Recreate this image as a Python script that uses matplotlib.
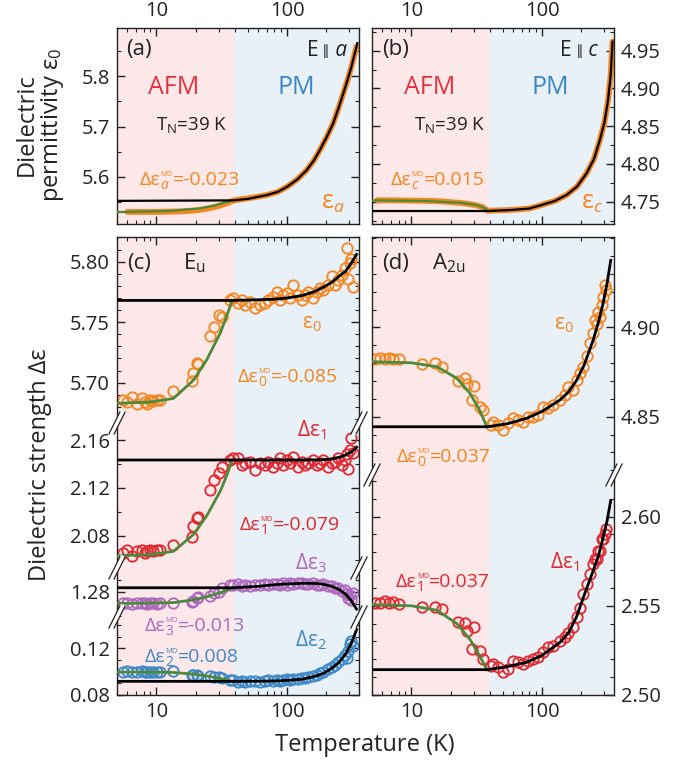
import matplotlib
matplotlib.use("Agg")
import matplotlib.pyplot as plt
import numpy as np
from matplotlib.lines import Line2D
from matplotlib.ticker import (FixedLocator, FuncFormatter, LogLocator,
                               MultipleLocator, NullFormatter)

plt.rcParams['font.family'] = ['Open Sans', 'DejaVu Sans']
plt.rcParams['mathtext.fontset'] = 'custom'
plt.rcParams['mathtext.rm'] = 'Open Sans'
plt.rcParams['mathtext.it'] = 'Open Sans:italic'
plt.rcParams['mathtext.bf'] = 'Open Sans:bold'

# ---------------- data ----------------
T_MIN, T_N, T_MAX = 5.0, 39.0, 355.0

# (a) E || a, static permittivity
a_T = [6, 10, 15, 20, 25, 30, 35, 39, 50, 70, 85, 100, 120, 141, 160, 178, 200,
       225, 250, 285, 310, 340]
a_eps = [5.530, 5.530, 5.531, 5.533, 5.537, 5.542, 5.548, 5.553, 5.557, 5.5635,
         5.570, 5.580, 5.595, 5.613, 5.632, 5.653, 5.678, 5.706, 5.740, 5.786,
         5.818, 5.859]
a_fit_T = [5, 39, 50, 70, 85, 100, 120, 141, 160, 178, 200, 225, 250, 285, 310, 345]
a_fit = [5.552, 5.553, 5.556, 5.5635, 5.570, 5.580, 5.595, 5.613, 5.632, 5.653,
         5.678, 5.706, 5.740, 5.786, 5.818, 5.866]
a_md_T = [5, 12, 21.6, 28.7, 37.8]
a_md = [5.5297, 5.5317, 5.537, 5.5436, 5.553]

# (b) E || c, static permittivity
b_T = [5.5, 10, 15, 20, 25, 30, 35, 38.5, 45, 57, 80, 99, 125, 154, 185, 219,
       250, 277, 300, 320, 335, 346]
b_eps = [4.752, 4.7515, 4.751, 4.7495, 4.748, 4.746, 4.743, 4.738, 4.7385, 4.739,
         4.741, 4.7456, 4.751, 4.7589, 4.770, 4.7876, 4.807, 4.832, 4.855, 4.885,
         4.918, 4.962]
b_fit_T = [5, 38.5, 57, 80, 99, 125, 154, 185, 219, 250, 277, 300, 320, 335, 346]
b_fit = [4.7377, 4.7377, 4.739, 4.741, 4.7456, 4.751, 4.7589, 4.770, 4.7876, 4.807,
         4.832, 4.855, 4.885, 4.918, 4.962]
b_md_T = [5, 13.2, 23.6, 31.7, 36.7, 38.5]
b_md = [4.7519, 4.7509, 4.7487, 4.7456, 4.7412, 4.7377]

# (c) Eu mode parameters
c_T = [5.6, 6.0, 6.5, 7.1, 7.8, 8.2, 8.5, 9.0, 9.5, 10.1, 10.7, 13.4, 18.7, 19.2,
       20.4, 21.0, 25.8, 27.4, 29.9, 31.7, 36.7,
       38.9, 42.4, 45.0, 47.7, 52.1, 56.9, 62.1, 67.8, 71.9, 78.5, 83.3, 88.3, 93.6,
       99.3, 105, 111.5, 121.8, 129, 137, 145, 158.6, 168, 178, 189, 206, 219, 232,
       246, 261, 277, 285, 293, 302, 311, 320]
c_eps0 = [5.686, 5.684, 5.688, 5.682, 5.687, 5.684, 5.682, 5.686, 5.685, 5.686,
          5.686, 5.693, 5.701, 5.708, 5.716, 5.7155, 5.739, 5.746, 5.756, 5.7545,
          5.768,
          5.770, 5.766, 5.768, 5.764, 5.767, 5.7615, 5.764, 5.766, 5.768, 5.771,
          5.775, 5.768, 5.7725, 5.774, 5.770, 5.781, 5.7725, 5.768, 5.7725, 5.775,
          5.770, 5.775, 5.778, 5.777, 5.781, 5.788, 5.781, 5.785, 5.789, 5.795,
          5.811, 5.786, 5.799, 5.802, 5.779]
c_de1 = [2.0656, 2.0683, 2.0628, 2.0669, 2.0683, 2.0656, 2.0669, 2.0683, 2.0669,
         2.0683, 2.0683, 2.0725, 2.0794, 2.0878, 2.0947, 2.0961, 2.1183, 2.1267,
         2.1322, 2.1378, 2.143,
         2.145, 2.1447, 2.139, 2.1406, 2.142, 2.135, 2.1406, 2.139, 2.142, 2.1378,
         2.141, 2.1447, 2.139, 2.1433, 2.1406, 2.146, 2.1378, 2.142, 2.139, 2.1406,
         2.1433, 2.139, 2.1406, 2.143, 2.1378, 2.1406, 2.142, 2.1447, 2.139, 2.1433,
         2.148, 2.136, 2.1517, 2.1614, 2.149]
c_de3 = [1.2703, 1.2706, 1.2700, 1.2704, 1.2702, 1.2705, 1.2701, 1.2704, 1.2703,
         1.2700, 1.2704, 1.2705, 1.2717, 1.2722, 1.2750, 1.2758, 1.2764, 1.2786,
         1.2800, 1.2828, 1.2856,
         1.2856, 1.2862, 1.2850, 1.2858, 1.2845, 1.2860, 1.2852, 1.2866, 1.2855,
         1.2862, 1.2868, 1.2856, 1.2870, 1.2860, 1.2872, 1.2864, 1.2870, 1.2875,
         1.2862, 1.2868, 1.2873, 1.2860, 1.2855, 1.2866, 1.2845, 1.2850, 1.2828,
         1.2835, 1.2810, 1.2815, 1.2780, 1.2745, 1.2770, 1.2730, 1.2790]
c_de2 = [0.0997, 0.1003, 0.1000, 0.0994, 0.1003, 0.0997, 0.1000, 0.0994, 0.1000,
         0.0997, 0.1000, 0.1003, 0.0975, 0.0970, 0.0975, 0.0965, 0.0960, 0.0955,
         0.0950, 0.0945, 0.0930,
         0.0925, 0.0915, 0.0920, 0.0912, 0.0918, 0.0922, 0.0915, 0.0920, 0.0925,
         0.0918, 0.0930, 0.0922, 0.0928, 0.0935, 0.0930, 0.0940, 0.0935, 0.0948,
         0.0945, 0.0955, 0.0965, 0.0975, 0.0990, 0.1000, 0.1020, 0.1040, 0.1060,
         0.1085, 0.1105, 0.1140, 0.1120, 0.1180, 0.1240, 0.1260, 0.1220]
c_fit_T = [5, 39, 60, 80, 100, 130, 160, 190, 220, 250, 280, 310, 340]
c_fit_eps0 = [5.768, 5.768, 5.7685, 5.769, 5.770, 5.772, 5.775, 5.779, 5.783,
              5.788, 5.792, 5.799, 5.806]
c_fit_de1 = [2.1433, 2.1433, 2.1433, 2.1433, 2.1433, 2.1433, 2.1434, 2.1436,
             2.1442, 2.1455, 2.1475, 2.1500, 2.1540]
c_fit_de3 = [1.2833, 1.2833, 1.2845, 1.2858, 1.2865, 1.2870, 1.2870, 1.2862,
             1.2845, 1.2818, 1.2780, 1.2725, 1.2655]
c_fit_de2 = [0.0917, 0.0917, 0.0918, 0.0920, 0.0925, 0.0935, 0.0957, 0.0985,
             0.1030, 0.1080, 0.1150, 0.1240, 0.1360]
c_md_T = [5, 9, 13.5, 19.2, 24.3, 30.8, 34.5, 38]
c_md_eps0 = [5.683, 5.684, 5.687, 5.702, 5.719, 5.741, 5.755, 5.768]
c_md_de1 = [2.0633, 2.0643, 2.0670, 2.0810, 2.0968, 2.1172, 2.1302, 2.1433]
c_md_de3 = [1.2703, 1.2705, 1.2709, 1.2732, 1.2758, 1.2792, 1.2813, 1.2833]
c_md_de2 = [0.0997, 0.0996, 0.0993, 0.0979, 0.0963, 0.0942, 0.0929, 0.0917]

# (d) A2u mode parameters
d_T = [5.3, 5.8, 6.3, 6.7, 7.3, 8.0, 12.0, 15.2, 17.1, 22.9, 25.8, 26.6, 29.0,
       29.9, 33.6, 35.6,
       40.5, 42.4, 46.3, 50.6, 55.2, 60.3, 65.8, 71.9, 78.5, 85.7, 93.5, 102, 111,
       122, 137, 150, 158.6, 173, 184, 195, 206, 219, 232, 246, 253, 261, 269, 277,
       285, 293, 302, 311]
d_eps0 = [4.8821, 4.8827, 4.8821, 4.8827, 4.8821, 4.8821, 4.8795, 4.8802, 4.8780,
          4.8702, 4.8715, 4.8683, 4.8594, 4.8672, 4.8556, 4.8538,
          4.8455, 4.8472, 4.8453, 4.8426, 4.8463, 4.8491, 4.8482, 4.8472, 4.8500,
          4.8500, 4.8510, 4.8556, 4.8547, 4.8566, 4.8594, 4.8622, 4.8668, 4.8650,
          4.8705, 4.8743, 4.8780, 4.8840, 4.8911, 4.8967, 4.9041, 4.9020, 4.9088,
          4.9060, 4.9125, 4.9172, 4.9237, 4.9209]
d_de1 = [2.5518, 2.5518, 2.5528, 2.5518, 2.5520, 2.5510, 2.5496, 2.5496, 2.5481,
         2.5407, 2.5403, 2.5360, 2.5258, 2.5379, 2.5248, 2.5202,
         2.5160, 2.5173, 2.5155, 2.5127, 2.5146, 2.5192, 2.5183, 2.5173, 2.5192,
         2.5202, 2.5211, 2.5239, 2.5267, 2.5276, 2.5304, 2.5323, 2.5350, 2.5379,
         2.5435, 2.5490, 2.5566, 2.5622, 2.5677, 2.5733, 2.5761, 2.5761, 2.5808,
         2.5808, 2.5873, 2.5873, 2.5901, 2.5929]
d_fit_T = [5, 38.5, 55, 76, 100, 137, 160, 184, 210, 246, 270, 293, 315, 335]
d_fit_eps0 = [4.8444, 4.8444, 4.8462, 4.8491, 4.8530, 4.8594, 4.8640, 4.8705,
              4.8790, 4.8929, 4.9030, 4.9135, 4.9250, 4.9375]
d_fit_de1 = [2.5142, 2.5142, 2.5160, 2.5183, 2.5222, 2.5295, 2.5350, 2.5440,
             2.5560, 2.5696, 2.5780, 2.5882, 2.5980, 2.6090]
d_md_T = [5, 10, 15.7, 22.3, 28.2, 33.6, 37.8]
d_md_eps0 = [4.8808, 4.8802, 4.8780, 4.8715, 4.8630, 4.8530, 4.8444]
d_md_de1 = [2.5506, 2.5500, 2.5475, 2.5400, 2.5310, 2.5215, 2.5142]

# ---------------- style ----------------
AFM_BG = '#fce8e8'
PM_BG = '#e8f0f8'
INK = '#222222'
ORANGE = '#f5861f'
RED = '#e2282f'
PURPLE = '#ae68bd'
BLUE = '#3f88c8'
GREEN = '#4a8a3a'
AFM_RED = '#e8303a'
PM_BLUE = '#3a86c6'

W, H = 693, 766
fig = plt.figure(figsize=(W / 100, H / 100), dpi=100)
renderer = fig.canvas.get_renderer()


def make_axes(box, ylim, major, minor, fmt, yside, top, bottom, xlab=None):
    x0, y0, x1, y1 = box
    ax = fig.add_axes([x0 / W, 1 - y1 / H, (x1 - x0) / W, (y1 - y0) / H])
    ax.set_xscale('log')
    ax.set_xlim(T_MIN, T_MAX)
    ax.set_ylim(ylim)
    ax.axvspan(T_MIN, T_N, color=AFM_BG, lw=0, zorder=0)
    ax.axvspan(T_N, T_MAX, color=PM_BG, lw=0, zorder=0)
    ax.xaxis.set_major_locator(FixedLocator([10, 100]))
    ax.xaxis.set_minor_locator(LogLocator(base=10, subs=np.arange(2, 10)))
    ax.xaxis.set_major_formatter(FuncFormatter(lambda v, p: f'{v:g}'))
    ax.xaxis.set_minor_formatter(NullFormatter())
    ax.yaxis.set_major_locator(FixedLocator(major))
    ax.yaxis.set_minor_locator(MultipleLocator(minor))
    ax.yaxis.set_major_formatter(FuncFormatter(lambda v, p: fmt % v))
    ax.tick_params(which='both', direction='in', left=True, right=True,
                   top=top, bottom=bottom,
                   labelleft=yside == 'left', labelright=yside == 'right',
                   labeltop=xlab == 'top', labelbottom=xlab == 'bottom',
                   colors=INK, labelsize=14.5, pad=5)
    ax.tick_params(which='major', length=6, width=1)
    ax.tick_params(which='minor', length=3, width=0.8)
    for s in ax.spines.values():
        s.set_color(INK)
        s.set_linewidth(1)
    ax.spines['top'].set_visible(top)
    ax.spines['bottom'].set_visible(bottom)
    return ax


def line_panel(ax, T, eps, fit_T, fit, md_T, md):
    ax.plot(T, eps, color=ORANGE, lw=4.2, solid_capstyle='round', zorder=2)
    ax.plot(md_T, md, color=GREEN, lw=1.6, zorder=3)
    ax.plot(fit_T, fit, color='black', lw=1.6, zorder=4)


def dot_panel(ax, T, vals, color, fit_T, fit, md_T, md):
    ax.plot(T, vals, 'o', mfc='none', mec=color, ms=7.5, mew=1.3, zorder=2)
    ax.plot(md_T, md, color=GREEN, lw=2, zorder=3)
    ax.plot(fit_T, fit, color='black', lw=2, zorder=4)


def txt(px, py, s, color=INK, size=14, ha='center', **kw):
    fig.text(px / W, 1 - py / H, s, color=color, fontsize=size, ha=ha,
             va='center', **kw)


def compose(px, py, parts, color, size, align='center'):
    """Lay out text pieces left to right; parts = (text, size, rise_px, stack, kw)."""
    base = py + 0.36 * size * 100 / 72
    placed, x, group = [], 0.0, 0.0
    for s, sz, rise, stack, kw in parts:
        t = fig.text(0, 0, s, fontsize=sz, color=color, ha='left', va='baseline', **kw)
        w = t.get_window_extent(renderer).width
        placed.append((t, x, rise))
        group = max(group, w)
        if not stack:
            x += group
            group = 0.0
    x0 = px - x / 2 if align == 'center' else px - x
    for t, xo, rise in placed:
        t.set_position(((x0 + xo) / W, 1 - (base - rise) / H))


def md_label(px, py, sub, value, color, italic=False):
    kw = {'style': 'italic'} if italic else {}
    compose(px, py, [('\u0394\u03b5', 14, 0, False, {}),
                     (sub, 10, -4, True, kw),
                     ('MD', 5.5, 9, False, {}),
                     ('=' + value, 14, 0, False, {})], color, 14)


def epar(px, py, axis_letter):
    compose(px, py, [('E', 15, 0, False, {}),
                     (' \u2225', 10, 1, False, {'family': 'DejaVu Sans'}),
                     (' ' + axis_letter, 15, 0, False, {'style': 'italic'})],
            INK, 15, align='right')


def brk(px, py):
    # axis break mark "//" on a spine
    fig.add_artist(Line2D([(px - 5) / W, (px + 5) / W],
                          [1 - (py + 10) / H, 1 - (py - 10) / H],
                          color='white', lw=3.5))
    for dx in (-2.6, 2.6):
        fig.add_artist(Line2D([(px + dx - 5.5) / W, (px + dx + 5.5) / W],
                              [1 - (py + 11) / H, 1 - (py - 11) / H],
                              color=INK, lw=0.9))


# panel (a)
ax_a = make_axes((117, 28, 359, 224), (5.506, 5.896), [5.6, 5.7, 5.8], 0.05,
                 '%.1f', 'left', True, True, 'top')
line_panel(ax_a, a_T, a_eps, a_fit_T, a_fit, a_md_T, a_md)

# panel (b)
ax_b = make_axes((372, 28, 614, 224), (4.7205, 4.98),
                 [4.75, 4.80, 4.85, 4.90, 4.95], 0.025, '%.2f', 'right',
                 True, True, 'top')
line_panel(ax_b, b_T, b_eps, b_fit_T, b_fit, b_md_T, b_md)

# panel (c): four stacked segments
c0 = make_axes((117, 237, 359, 423), (5.6667, 5.8204), [5.70, 5.75, 5.80], 0.01,
               '%.2f', 'left', True, False)
dot_panel(c0, c_T, c_eps0, ORANGE, c_fit_T, c_fit_eps0, c_md_T, c_md_eps0)
c1 = make_axes((117, 423, 359, 568), (2.0531, 2.1742), [2.08, 2.12, 2.16], 0.02,
               '%.2f', 'left', False, False)
dot_panel(c1, c_T, c_de1, RED, c_fit_T, c_fit_de1, c_md_T, c_md_de1)
c3 = make_axes((117, 568, 359, 617), (1.2589, 1.2998), [1.28], 0.01,
               '%.2f', 'left', False, False)
dot_panel(c3, c_T, c_de3, PURPLE, c_fit_T, c_fit_de3, c_md_T, c_md_de3)
c2 = make_axes((117, 617, 359, 695), (0.08, 0.1468), [0.08, 0.12], 0.01,
               '%.2f', 'left', False, True, 'bottom')
dot_panel(c2, c_T, c_de2, BLUE, c_fit_T, c_fit_de2, c_md_T, c_md_de2)

# panel (d): two stacked segments
d0 = make_axes((372, 237, 614, 475), (4.8174, 4.9506), [4.85, 4.90], 0.01,
               '%.2f', 'right', True, False)
dot_panel(d0, d_T, d_eps0, ORANGE, d_fit_T, d_fit_eps0, d_md_T, d_md_eps0)
d1 = make_axes((372, 475, 614, 695), (2.50, 2.6233), [2.50, 2.55, 2.60], 0.01,
               '%.2f', 'right', False, True, 'bottom')
dot_panel(d1, d_T, d_de1, RED, d_fit_T, d_fit_de1, d_md_T, d_md_de1)

for x in (117, 359):
    for y in (423, 568, 617):
        brk(x, y)
for x in (372, 614):
    brk(x, 475)

# annotations
txt(139, 49, '(a)', size=16)
epar(347, 49, 'a')
txt(174, 88, 'AFM', AFM_RED, 18)
txt(296, 88, 'PM', PM_BLUE, 18)
txt(192, 125, 'T$_{\\mathrm{N}}$=39 K', size=13.5)
md_label(190, 178, 'a', '-0.023', ORANGE, italic=True)
txt(333, 203, '\u03b5$_{a}$', ORANGE, 18)

txt(396, 49, '(b)', size=16)
epar(598, 49, 'c')
txt(430, 88, 'AFM', AFM_RED, 18)
txt(550, 88, 'PM', PM_BLUE, 18)
txt(450, 125, 'T$_{\\mathrm{N}}$=39 K', size=13.5)
md_label(438, 178, 'c', '0.015', ORANGE, italic=True)
txt(592, 203, '\u03b5$_{c}$', ORANGE, 18)

txt(139, 263, '(c)', size=16)
txt(194, 263, 'E$_{\\mathrm{u}}$', size=16)
txt(312, 323, '\u03b5$_0$', ORANGE, 15)
md_label(288, 375, '0', '-0.085', ORANGE)
txt(312, 430, '\u0394\u03b5$_1$', RED, 15)
md_label(290, 523, '1', '-0.079', RED)
txt(311, 563, '\u0394\u03b5$_3$', PURPLE, 15)
md_label(195, 624, '3', '-0.013', PURPLE)
txt(311, 640, '\u0394\u03b5$_2$', BLUE, 15)
md_label(192, 655, '2', '0.008', BLUE)

txt(396, 263, '(d)', size=16)
txt(449, 263, 'A$_{\\mathrm{2u}}$', size=16)
txt(564, 325, '\u03b5$_0$', ORANGE, 15)
md_label(444, 455, '0', '0.037', ORANGE)
txt(565, 562, '\u0394\u03b5$_1$', RED, 15)
md_label(443, 580, '1', '0.037', RED)

# axis titles
txt(40, 125, 'Dielectric\npermittivity \u03b5$_0$', size=17, rotation=90,
    linespacing=1.0)
txt(40, 465, 'Dielectric strength \u0394\u03b5', size=17, rotation=90)
txt(365, 745, 'Temperature (K)', size=17)

fig.savefig('out.png', dpi=100)
